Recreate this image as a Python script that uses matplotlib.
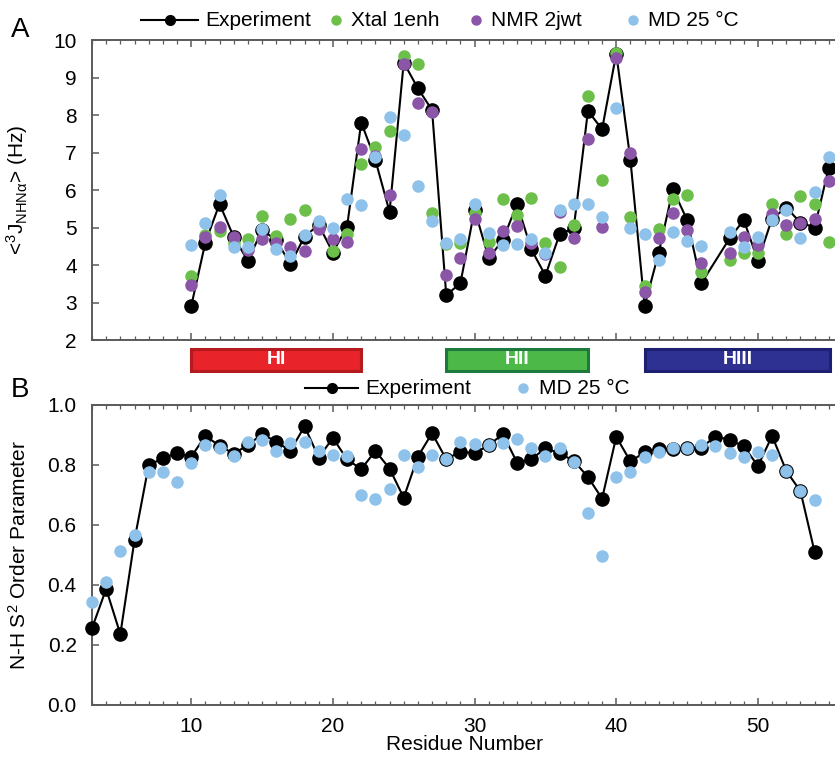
import matplotlib
matplotlib.use("Agg")
import matplotlib.pyplot as plt
from matplotlib.lines import Line2D
from matplotlib.patches import Rectangle
from matplotlib.ticker import MultipleLocator

plt.rcParams['font.family'] = ['Liberation Sans', 'DejaVu Sans']
plt.rcParams['mathtext.fontset'] = 'custom'
plt.rcParams['mathtext.rm'] = 'Liberation Sans'
plt.rcParams['mathtext.it'] = 'Liberation Sans:italic'

# ---------------- Panel A data: <3J_HNHa> (Hz) ----------------
res_a = [10, 11, 12, 13, 14, 15, 16, 17, 18, 19, 20, 21, 22, 23, 24, 25, 26, 27,
         28, 29, 30, 31, 32, 33, 34, 35, 36, 37, 38, 39, 40, 41, 42, 43, 44, 45,
         46, 48, 49, 50, 51, 52, 53, 54, 55]
exp_a = [2.9, 4.6, 5.63, 4.75, 4.11, 4.93, 4.67, 4.02, 4.76, 5.07, 4.33, 5.02, 7.8, 6.8,
         5.42, 9.4, 8.71, 8.13, 3.2, 3.51, 5.48, 4.18, 4.67, 5.63, 4.42, 3.72, 4.82, 4.98,
         8.11, 7.62, 9.64, 6.8, 2.91, 4.33, 6.02, 5.2, 3.51, 4.71, 5.2, 4.11, 5.24, 5.53,
         5.13, 5.0, 6.6]
xtal_a = [3.71, 4.8, 4.91, 4.6, 4.69, 5.31, 4.78, 5.22, 5.47, 5.05, 4.37, 4.83, 6.69, 7.16,
          7.57, 9.57, 9.36, 5.38, 4.55, 4.6, 5.4, 4.62, 5.75, 5.33, 5.8, 4.58, 3.94, 5.08,
          8.52, 6.27, 9.66, 5.29, 3.44, 4.95, 5.75, 5.87, 3.82, 4.13, 4.33, 4.33, 5.62, 4.83,
          5.85, 5.64, 4.62]
nmr_a = [3.46, 4.76, 5.02, 4.76, 4.4, 4.69, 4.6, 4.49, 4.38, 4.96, 4.69, 4.62, 7.09, 6.9,
         5.88, 9.36, 8.31, 8.07, 3.73, 4.2, 5.23, 4.31, 4.91, 5.05, 4.6, 4.3, 5.42, 4.73,
         7.37, 5.02, 9.51, 7.0, 3.27, 4.71, 5.38, 4.93, 4.06, 4.33, 4.74, 4.53, 5.35, 5.07,
         5.13, 5.23, 6.24]
md_a = [4.53, 5.11, 5.88, 4.49, 4.49, 4.95, 4.44, 4.25, 4.8, 5.17, 5.0, 5.76, 5.59, 6.89,
        7.94, 7.48, 6.11, 5.17, 4.6, 4.69, 5.62, 4.86, 4.53, 4.56, 4.69, 4.33, 5.48, 5.64,
        5.64, 5.29, 8.2, 5.0, 4.83, 4.13, 4.89, 4.65, 4.51, 4.89, 4.49, 4.76, 5.2, 5.48,
        4.71, 5.96, 6.89]

# ---------------- Panel B data: N-H S2 order parameter ----------------
res_b = list(range(3, 55))
exp_b = [0.256, 0.387, 0.236, 0.55, 0.799, 0.823, 0.839, 0.827, 0.897, 0.864, 0.838,
         0.866, 0.903, 0.878, 0.847, 0.929, 0.825, 0.89, 0.819, 0.786, 0.847, 0.788,
         0.691, 0.828, 0.906, 0.819, 0.845, 0.839, 0.866, 0.903, 0.808, 0.819, 0.856,
         0.839, 0.814, 0.76, 0.688, 0.894, 0.812, 0.842, 0.855, 0.852, 0.856, 0.858,
         0.895, 0.884, 0.862, 0.797, 0.897, 0.78, 0.713, 0.51]
md_b = [0.345, 0.41, 0.513, 0.566, 0.777, 0.777, 0.743, 0.808, 0.866, 0.856, 0.83,
        0.878, 0.883, 0.847, 0.874, 0.876, 0.847, 0.834, 0.83, 0.699, 0.688, 0.721,
        0.835, 0.794, 0.835, 0.82, 0.876, 0.87, 0.866, 0.872, 0.886, 0.858, 0.83,
        0.856, 0.81, 0.641, 0.496, 0.761, 0.777, 0.828, 0.843, 0.856, 0.858, 0.866,
        0.864, 0.839, 0.827, 0.843, 0.833, 0.78, 0.715, 0.683]

# ---------------- Helix annotation ----------------
helix_names = ["HI", "HII", "HIII"]
helix_start = [10, 28, 42]
helix_end = [22, 38, 55.1]
helix_fill = ["#e8232a", "#4cb848", "#2e3192"]
helix_edge = ["#b31b1f", "#1e7a3c", "#1d2070"]

C_EXP = "black"
C_XTAL = "#6cc04a"
C_NMR = "#8b55a8"
C_MD = "#8ec2ea"
SPINE = "#5a5a5a"
FS = 15

W, H = 835, 758
fig = plt.figure(figsize=(W / 100, H / 100), dpi=100)

X0, X1 = 3, 55.6
left = 92 / W
width = (837.3 - 92) / W


def style_axes(ax):
    ax.set_xlim(X0, X1)
    for s in ['left', 'top', 'bottom']:
        ax.spines[s].set_color(SPINE)
        ax.spines[s].set_linewidth(1.4)
    ax.spines['right'].set_visible(False)
    ax.xaxis.set_major_locator(MultipleLocator(10))
    ax.xaxis.set_minor_locator(MultipleLocator(1))
    ax.tick_params(axis='x', which='both', direction='in', top=True, bottom=True,
                   color=SPINE, labelsize=FS)
    ax.tick_params(axis='x', which='major', length=5, width=1.1)
    ax.tick_params(axis='x', which='minor', length=3, width=0.9)
    ax.tick_params(axis='y', which='major', direction='in', length=5, width=1.1,
                   color=SPINE, labelsize=FS, right=False, pad=11)


# ----- Panel A -----
axA = fig.add_axes([left, (H - 340) / H, width, 300 / H])
style_axes(axA)
axA.set_ylim(2, 10)
axA.yaxis.set_major_locator(MultipleLocator(1))
axA.tick_params(axis='x', labelbottom=False)
axA.plot(res_a, exp_a, '-o', color=C_EXP, lw=1.5, ms=9.5, zorder=3, clip_on=False)
axA.plot(res_a, xtal_a, 'o', color=C_XTAL, ms=8, zorder=4, clip_on=False)
axA.plot(res_a, nmr_a, 'o', color=C_NMR, ms=8, zorder=5, clip_on=False)
axA.plot(res_a, md_a, 'o', color=C_MD, ms=8, zorder=6, clip_on=False)
axA.set_ylabel(r'<$\mathregular{^3J_{NHN\alpha}}$> (Hz)', fontsize=FS)
axA.yaxis.set_label_coords(-0.083, 0.5)

# ----- Helix bars -----
axH = fig.add_axes([left, (H - 373) / H, width, 26 / H])
axH.set_xlim(X0, X1)
axH.set_ylim(0, 1)
axH.axis('off')
for name, s, e, fc, ec in zip(helix_names, helix_start, helix_end, helix_fill, helix_edge):
    axH.add_patch(Rectangle((s, 0.06), e - s, 0.88, facecolor=fc, edgecolor=ec, lw=2.2))
    axH.text((s + e) / 2, 0.5, name, color='white', ha='center', va='center',
             fontsize=14, fontweight='bold')

# ----- Panel B -----
axB = fig.add_axes([left, (H - 705) / H, width, 300 / H])
style_axes(axB)
axB.set_ylim(0, 1.0)
axB.yaxis.set_major_locator(MultipleLocator(0.2))
axB.yaxis.set_major_formatter(matplotlib.ticker.FormatStrFormatter('%.1f'))
axB.tick_params(axis='x', which='major', pad=9)
axB.plot(res_b, exp_b, '-o', color=C_EXP, lw=1.5, ms=9.5, zorder=3, clip_on=False)
axB.plot(res_b, md_b, 'o', color=C_MD, ms=8, zorder=4, clip_on=False)
axB.set_ylabel(r'N-H S$\mathregular{^2}$ Order Parameter', fontsize=FS)
axB.yaxis.set_label_coords(-0.083, 0.5)
axB.set_xlabel('Residue Number', fontsize=FS, labelpad=-1)

# ----- Manual legends (figure pixel coordinates) -----
def fx(px):
    return px / W


def fy(py):
    return 1 - py / H


def leg_line(x0, x1, y, label, tx):
    fig.add_artist(Line2D([fx(x0), fx(x1)], [fy(y), fy(y)], color=C_EXP, lw=1.5,
                          transform=fig.transFigure))
    fig.add_artist(Line2D([fx((x0 + x1) / 2)], [fy(y)], color=C_EXP, marker='o', ms=7,
                          ls='none', transform=fig.transFigure))
    fig.text(fx(tx), fy(y), label, fontsize=FS, va='center', ha='left')


def leg_dot(x, y, color, label, tx):
    fig.add_artist(Line2D([fx(x)], [fy(y)], color=color, marker='o', ms=6.5, ls='none',
                          transform=fig.transFigure))
    fig.text(fx(tx), fy(y), label, fontsize=FS, va='center', ha='left')


yA = 20
leg_line(141, 198, yA, 'Experiment', 205)
leg_dot(336, yA, C_XTAL, 'Xtal 1enh', 351)
leg_dot(476, yA, C_NMR, 'NMR 2jwt', 491)
leg_dot(633, yA, C_MD, 'MD 25 °C', 648)

yB = 388
leg_line(305, 358, yB, 'Experiment', 365)
leg_dot(523, yB, C_MD, 'MD 25 °C', 539)

fig.text(fx(11), fy(30), 'A', fontsize=20, va='center', ha='left')
fig.text(fx(11), fy(390), 'B', fontsize=20, va='center', ha='left')

fig.savefig('out.png', dpi=100)
